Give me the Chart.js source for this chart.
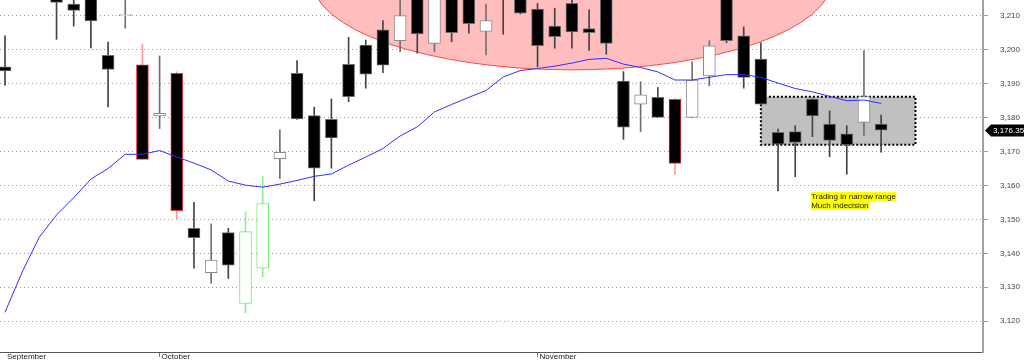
<!DOCTYPE html>
<html><head><meta charset="utf-8">
<script src="https://cdn.jsdelivr.net/npm/chart.js@4.4.1/dist/chart.umd.min.js"></script>
<style>html,body{margin:0;padding:0;background:#fff}canvas{display:block}</style>
</head><body>
<canvas id="c" width="1024" height="360"></canvas>
<script>
// ---- data ----
const opens  = [3195.0,3222,3221,3218,3213.5,3216,3198.4,3210.1,3195.6,3180.5,3193.1,3147.4,3134.3,3146.1,3125.2,3135.6,3167.9,3193.1,3180.6,3179.5,3195.7,3201.4,3205.9,3202.7,3218,3201.9,3219,3216,3205.4,3222,3218,3212.0,3207.0,3213.7,3206.3,3218,3190.8,3184.0,3186.0,3185.4,3180.1,3192.3,3217,3204.1,3197.3,3175.7,3175.9,3185.5,3178.1,3175.2,3178.6,3178.1];
const highs  = [3204.1,3226,3225,3221,3217,3219,3202.3,3216,3201.7,3198.2,3193.5,3155.0,3148.7,3147.4,3152.3,3162.8,3176.4,3196.8,3183.1,3185.5,3203.7,3202.9,3208.6,3216,3222,3224,3223,3220,3213.5,3226,3221,3213.7,3212.3,3216,3211.8,3221,3193.6,3190.6,3188.9,3185.6,3196.5,3202.7,3220,3206.8,3202.1,3176.6,3177.6,3185.6,3182.0,3177.6,3199.8,3180.8];
const lows   = [3189.6,3215.5,3215.3,3203.1,3207.0,3200.6,3183.2,3206.4,3167.7,3176.8,3150.0,3135.6,3131.1,3132.6,3122.5,3133.1,3162.1,3179.5,3155.5,3165.1,3184.7,3188.7,3193.3,3199.5,3199.0,3199.5,3202.4,3204.9,3198.5,3204.6,3210.6,3195.0,3200.5,3200.5,3199.8,3198.7,3173.6,3175.9,3180.1,3163.3,3180.0,3189.4,3202.1,3188.7,3184.0,3158.4,3162.6,3174.4,3168.5,3163.3,3174.7,3169.8];
const closes = [3193.8,3218,3217,3214.0,3211.6,3208.5,3194.2,3210.4,3167.7,3181.3,3152.6,3144.6,3138.0,3136.5,3146.4,3154.7,3169.8,3179.6,3165.1,3174.0,3186.2,3192.8,3195.5,3210.1,3204.7,3220,3205.1,3207.7,3208.6,3218,3210.8,3201.2,3203.9,3205.3,3205.1,3201.9,3177.2,3186.7,3180.1,3166.5,3191.1,3201.2,3202.7,3191.9,3184.0,3172.2,3172.7,3180.5,3173.3,3172.0,3186.2,3176.35];
const movingAvg = [3122.6,3134.5,3144.8,3151.3,3156.4,3161.9,3165.0,3169.2,3169.2,3170.3,3168.4,3166.6,3164.6,3161.3,3160.1,3159.5,3160.4,3161.5,3162.7,3163.4,3166.0,3168.4,3170.9,3174.6,3177.3,3181.7,3183.9,3186.0,3188.0,3192.0,3193.9,3194.5,3195.2,3196.1,3197.2,3197.5,3195.8,3194.8,3193.5,3191.1,3191.1,3191.9,3192.7,3192.7,3191.9,3190.2,3188.6,3187.6,3186.3,3185.0,3185.2,3184.2];
const redCandles   = [8, 10, 39];
const greenCandles = [14, 15];
const monthTicks  = [0, 9, 31];
const monthLabels = ['September', 'October', 'November'];
const lastPrice = 3176.35;
// annotations (data coordinates)
const ellipseCenter = [33.0, 3220.6];
const ellipseRadii  = [15.13, 26.5];
const rangeBox = [44, 53, 3172.0, 3186.2];
const noteAnchor = [46.9, 3158.1];
const noteLines = ['Trading in narrow range', 'Much indecision'];

const FONT = '"Liberation Sans", Arial, sans-serif';
Chart.defaults.font.family = FONT;

const idx = opens.map((_, i) => i);
const kind = i => redCandles.includes(i) ? 'red' : greenCandles.includes(i) ? 'green' : (closes[i] >= opens[i] ? 'up' : 'down');
const bodyFill = i => (kind(i) === 'red' || kind(i) === 'down') ? '#000000' : '#ffffff';
const bodyBorder = i => ({red:'#e8383c', green:'#6fec6f', up:'#8a8a8a', down:'#6e6e6e'})[kind(i)];
const wickColor = i => ({red:'#ff9c9c', green:'#8ff08f', up:'#707070', down:'#444444'})[kind(i)];

const annotations = {
  id: 'annotations',
  beforeDatasetsDraw(chart) {
    const {ctx, chartArea, scales: {x, y}} = chart;
    ctx.save();
    ctx.beginPath();
    ctx.rect(chartArea.left, chartArea.top, chartArea.right - chartArea.left, chartArea.bottom - chartArea.top);
    ctx.clip();
    // ellipse
    const cx = x.getPixelForValue(ellipseCenter[0]);
    const cy = y.getPixelForValue(ellipseCenter[1]);
    const rx = x.getPixelForValue(ellipseCenter[0] + ellipseRadii[0]) - cx;
    const ry = y.getPixelForValue(ellipseCenter[1] - ellipseRadii[1]) - cy;
    ctx.beginPath();
    ctx.ellipse(cx, cy, rx, ry, 0, 0, Math.PI * 2);
    ctx.fillStyle = '#ffbdbd';
    ctx.fill();
    ctx.lineWidth = 1;
    ctx.strokeStyle = '#ff4a4a';
    ctx.stroke();
    // range box
    const x1 = x.getPixelForValue(rangeBox[0]), x2 = x.getPixelForValue(rangeBox[1]);
    const y1 = y.getPixelForValue(rangeBox[3]), y2 = y.getPixelForValue(rangeBox[2]);
    ctx.fillStyle = '#c0c0c0';
    ctx.fillRect(x1, y1, x2 - x1, y2 - y1);
    ctx.setLineDash([2, 2]);
    ctx.lineWidth = 2;
    ctx.strokeStyle = '#000';
    ctx.strokeRect(x1, y1, x2 - x1, y2 - y1);
    ctx.restore();
  },
  afterDraw(chart) {
    const {ctx, chartArea, scales: {x, y}} = chart;
    ctx.save();
    // note
    ctx.font = '8px ' + FONT;
    ctx.textBaseline = 'top';
    ctx.textAlign = 'left';
    const nx = x.getPixelForValue(noteAnchor[0]);
    let ny = y.getPixelForValue(noteAnchor[1]);
    noteLines.forEach(t => {
      const w = ctx.measureText(t).width;
      ctx.fillStyle = '#ffff00';
      ctx.fillRect(nx, ny, w + 1, 9);
      ctx.fillStyle = '#1a1a00';
      ctx.fillText(t, nx + 0.5, ny + 0.5);
      ny += 9;
    });
    // last price tag
    const py = Math.round(y.getPixelForValue(lastPrice)) + 0.5;
    const px = chartArea.right + 2;
    ctx.beginPath();
    ctx.moveTo(px, py);
    ctx.lineTo(px + 6, py - 6);
    ctx.lineTo(chart.width, py - 6);
    ctx.lineTo(chart.width, py + 6);
    ctx.lineTo(px + 6, py + 6);
    ctx.closePath();
    ctx.fillStyle = '#000';
    ctx.fill();
    ctx.fillStyle = '#fff';
    ctx.textBaseline = 'middle';
    ctx.fillText(lastPrice.toLocaleString('en-US', {minimumFractionDigits: 2}), px + 8, py + 0.5);
    ctx.restore();
  }
};

new Chart(document.getElementById('c'), {
  type: 'bar',
  data: {
    datasets: [
      {
        type: 'line',
        data: idx.map(i => ({x: i, y: movingAvg[i]})),
        borderColor: '#2f2fff',
        borderWidth: 1,
        pointRadius: 0,
        tension: 0,
        order: 1
      },
      {
        data: idx.map(i => ({x: i, y: [opens[i], closes[i]]})),
        backgroundColor: idx.map(bodyFill),
        borderColor: idx.map(bodyBorder),
        borderWidth: 1,
        borderSkipped: false,
        barThickness: 12,
        grouped: false,
        order: 2
      },
      {
        data: idx.map(i => ({x: i, y: [lows[i], highs[i]]})),
        backgroundColor: idx.map(wickColor),
        borderWidth: 0,
        barThickness: 1,
        grouped: false,
        order: 3
      }
    ]
  },
  options: {
    responsive: false,
    animation: false,
    devicePixelRatio: 1,
    events: [],
    layout: {padding: 0},
    plugins: {legend: {display: false}, tooltip: {enabled: false}},
    scales: {
      x: {
        type: 'linear',
        min: -0.291,
        max: 56.93,
        offset: false,
        grid: {
          offset: false,
          drawOnChartArea: false,
          drawTicks: true,
          tickLength: 5,
          color: ctx => ctx.index === 0 ? 'rgba(0,0,0,0)' : '#777'
        },
        border: {display: true, color: '#555', width: 1},
        ticks: {
          autoSkip: false,
          maxRotation: 0,
          align: 'start',
          padding: -5,
          labelOffset: 2,
          color: '#222',
          font: {size: 8},
          callback: v => monthLabels[monthTicks.indexOf(v)]
        },
        afterBuildTicks: s => { s.ticks = monthTicks.map(v => ({value: v})); },
        afterFit: s => { s.height = 8; s.paddingLeft = 0; s.paddingRight = 0; }
      },
      y: {
        position: 'right',
        min: 3110.9,
        max: 3214.7,
        grid: {
          color: '#9a9a9a',
          lineWidth: 1,
          drawTicks: true,
          tickLength: 5,
          tickColor: '#999'
        },
        border: {display: true, color: '#a0a0a0', width: 2, dash: [1, 3]},
        ticks: {
          stepSize: 10,
          includeBounds: false,
          padding: 12,
          color: '#444',
          font: {size: 8},
          callback: v => v.toLocaleString('en-US')
        },
        afterFit: s => { s.width = 41; s.paddingTop = 0; s.paddingBottom = 0; }
      }
    }
  },
  plugins: [annotations]
});
</script>
</body></html>
